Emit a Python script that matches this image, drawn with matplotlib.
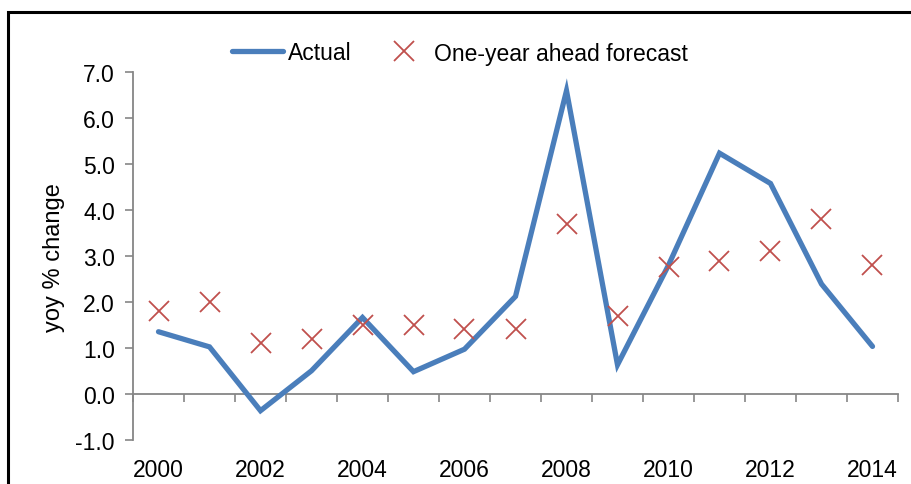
import matplotlib
matplotlib.use("Agg")
import matplotlib.pyplot as plt
from matplotlib.patches import Rectangle
from matplotlib.ticker import FixedLocator
import numpy as np

plt.rcParams['font.family'] = ['Liberation Sans', 'DejaVu Sans']

# yoy % change, actual outturn and one-year ahead forecast
years = [2000, 2001, 2002, 2003, 2004, 2005, 2006, 2007,
         2008, 2009, 2010, 2011, 2012, 2013, 2014]
actual = [1.35, 1.02, -0.37, 0.50, 1.66, 0.48, 0.97, 2.12,
          6.60, 0.63, 2.80, 5.24, 4.58, 2.39, 1.03]
forecast = [1.8, 2.0, 1.1, 1.2, 1.5, 1.5, 1.4, 1.4,
            3.7, 1.7, 2.75, 2.9, 3.1, 3.8, 2.8]
yticks = [-1.0, 0.0, 1.0, 2.0, 3.0, 4.0, 5.0, 6.0, 7.0]

blue = '#4A7EBB'
red = '#C0504D'
grey = '#868686'

fig = plt.figure(figsize=(9.12, 4.85), dpi=100)
W, H = 912, 485
ax = fig.add_axes([133 / W, (H - 440.6) / H, (898 - 133) / W, (440.6 - 73.4) / H])

x = np.arange(len(years))
ax.plot(x, actual, color=blue, lw=3.8, solid_capstyle='round',
        solid_joinstyle='miter', label='Actual', zorder=3)
ax.plot(x, forecast, ls='none', marker='x', ms=14, mew=1.3,
        color=red, label='One-year ahead forecast', zorder=4)

ax.set_xlim(-0.5, len(years) - 0.5)
ax.set_ylim(-1.0, 7.0)

# y axis
ax.set_yticks(yticks)
ax.set_yticklabels([f'{v:.1f}' for v in yticks], fontsize=16.5)
ax.tick_params(axis='y', direction='out', length=6, width=1.2,
               color=grey, pad=7)

# category axis sits on zero; labels stay at the bottom
ax.spines['bottom'].set_position(('data', 0))
ax.xaxis.set_major_locator(FixedLocator(x[::2]))
ax.set_xticklabels([str(y) for y in years[::2]], fontsize=16.5)
ax.xaxis.set_minor_locator(FixedLocator(np.arange(-0.5, len(years), 1.0)))
ax.tick_params(axis='x', which='major', length=0, pad=46)
ax.tick_params(axis='x', which='minor', direction='out', length=6,
               width=1.2, color=grey)

for side in ['top', 'right']:
    ax.spines[side].set_visible(False)
for side in ['left', 'bottom']:
    ax.spines[side].set_color(grey)
    ax.spines[side].set_linewidth(1.3)

fig.text(54 / W, 1 - 257.5 / H, 'yoy % change', rotation=90,
         ha='center', va='center', fontsize=17)

leg = ax.legend(loc='center', bbox_to_anchor=(460 / W, 1 - 54 / H),
                bbox_transform=fig.transFigure, ncol=2, frameon=False,
                fontsize=16.5, handlelength=2.2, handletextpad=0.2,
                columnspacing=1.2)

# outer chart frame
fig.patches.append(Rectangle((8 / W, -0.2), 1.2, 1 - 12.5 / H + 0.2,
                             transform=fig.transFigure, fill=False,
                             edgecolor='black', lw=2.2, clip_on=False))

fig.savefig('out.png', dpi=100, facecolor='white')
